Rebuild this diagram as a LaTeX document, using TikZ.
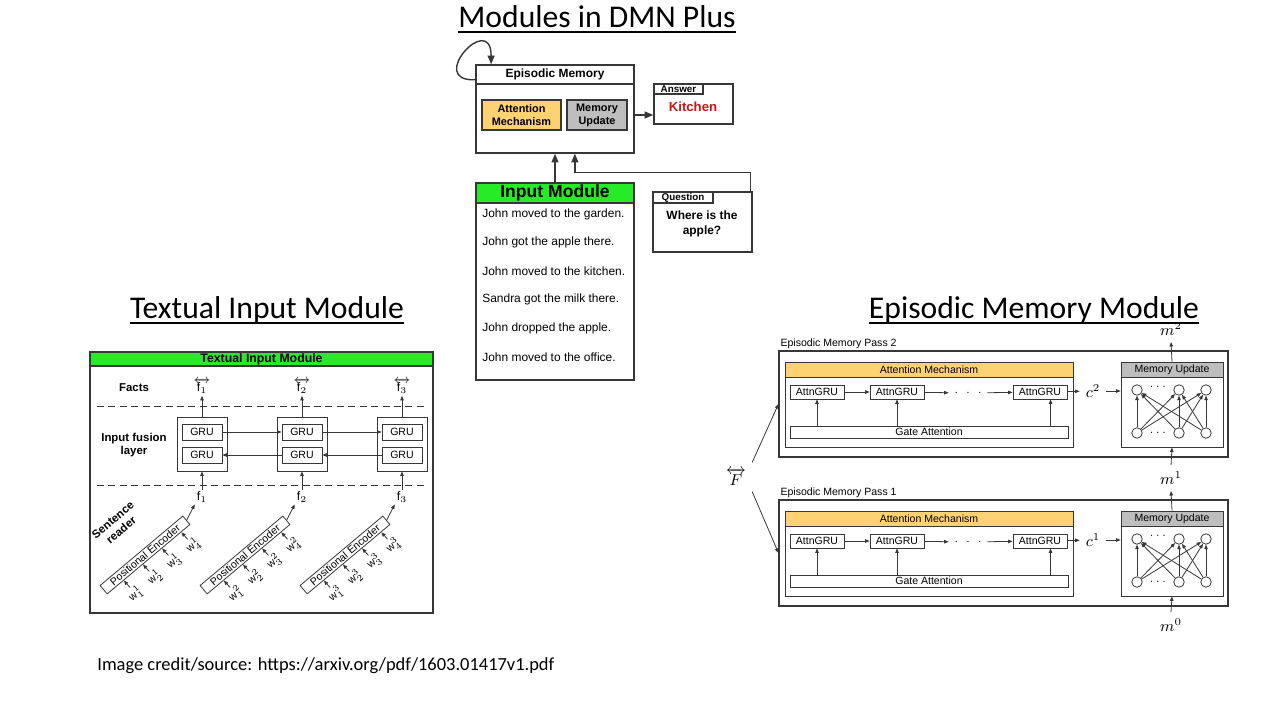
\documentclass[tikz,border=0pt]{standalone}
\usepackage{amsmath}
\usepackage{fontspec}
\setmainfont{Liberation Sans}
\setsansfont{Liberation Sans}
\newfontfamily\calibri{Carlito}
\usetikzlibrary{arrows.meta, positioning, fit, calc}

\definecolor{modgreen}{RGB}{40,235,40}
\definecolor{attnorange}{RGB}{253,210,115}
\definecolor{updgrey}{RGB}{190,190,190}
\definecolor{kitred}{RGB}{204,20,20}
\definecolor{linegrey}{RGB}{55,55,55}

\begin{document}
\begin{tikzpicture}[x=0.02cm, y=-0.02cm,
    box/.style={draw=linegrey, line width=0.8pt, inner sep=0pt},
    sbox/.style={draw=linegrey, line width=0.45pt, inner sep=0pt, fill=white},
    bigarr/.style={-{Triangle[length=5pt,width=4pt]}, line width=0.8pt, draw=linegrey},
    arr/.style={-{Triangle[length=2.6pt,width=2pt]}, line width=0.45pt, draw=linegrey},
    heading/.style={font=\calibri\fontsize{18}{20}\selectfont, anchor=base, inner sep=0pt},
    uline/.style={line width=1.1pt},
    tiny/.style={font=\fontsize{6}{7}\selectfont, inner sep=0pt},
    tinyb/.style={font=\bfseries\fontsize{6.5}{7.4}\selectfont, inner sep=0pt},
    mainb/.style={font=\bfseries\fontsize{6.8}{8.4}\selectfont, inner sep=0pt},
    tabb/.style={font=\bfseries\fontsize{5.6}{5.6}\selectfont, inner sep=0pt}]

    \fill[white] (0,0) rectangle (1280,720);
    \useasboundingbox (0,0) rectangle (1280,720);

    % Modules in DMN Plus
    \node[heading] (dmnt) at (597,28) {Modules in DMN Plus};
    \draw[uline] ([yshift=-2.4pt]dmnt.base west) -- ([yshift=-2.4pt]dmnt.base east);

    \node[box, fit={(476,65) (634,153)}] (em) {};
    \node[box, fit={(476,65) (634,84)}] (emh) {};
    \node[mainb] (emhl) at (emh) {Episodic Memory};
    \node[box, fill=attnorange, fit={(482,100) (561,130)}] (am) {};
    \node[align=center, inner sep=0pt, font=\bfseries\fontsize{6.2}{7.4}\selectfont] (aml) at (am) {Attention\\Mechanism};
    \node[box, fill=updgrey, fit={(567,100) (627,130)}] (mu) {};
    \node[align=center, inner sep=0pt, font=\bfseries\fontsize{6.2}{7.4}\selectfont] (mul) at (mu) {Memory\\Update};
    \draw[bigarr] ([yshift=-3pt]emh.west) .. controls +(-50,2) and +(0,-54) .. ([xshift=9pt]emh.north west);

    \node[box, fit={(654,84) (733,124)}] (ans) {};
    \node[box, line width=0.6pt, fit={(654,84) (703,94)}] (anst) {};
    \node[tabb] (anstl) at (anst) {Answer};
    \node[text=kitred, font=\bfseries\fontsize{7.5}{9}\selectfont] (kit) at (693,107) {Kitchen};
    \draw[bigarr] (em.east |- am.east) -- (ans.west |- am.east);

    \node[box, fit={(476,183) (634,380)}] (im) {};
    \node[box, fill=modgreen, fit={(476,183) (634,203)}] (imh) {};
    \node[inner sep=0pt, font=\bfseries\fontsize{10}{12}\selectfont] (imhl) at (imh) {Input Module};
    \foreach \s [count=\k] in {John moved to the garden., John got the apple there., John moved to the kitchen.,
        Sandra got the milk there., John dropped the apple., John moved to the office.}
        \node[anchor=west, inner sep=0pt, font=\fontsize{6.8}{8}\selectfont] (s\k) at (482,{214+28.6*(\k-1)}) {\s};
    \draw[bigarr] (imh.north) -- (imh.north |- em.south);

    \node[box, fit={(653,192) (752,252)}] (q) {};
    \node[box, line width=0.6pt, fit={(653,192) (713,203)}] (qt) {};
    \node[tabb] (qtl) at (qt) {Question};
    \node[mainb, align=center] (qtxt) at (702,224) {Where is the\\apple?};
    \draw[bigarr] ([xshift=-1.2pt]q.north east) -- ++(0,-19) -| ([xshift=11.3pt]em.south);

    % Textual Input Module
    \node[heading] (timt) at (267,318) {Textual Input Module};
    \draw[uline] ([yshift=-2.6pt]timt.base west) -- ([yshift=-2.6pt]timt.base east);

    \node[sbox, line width=0.6pt, fit={(90,352) (433,613)}] (tim) {};
    \node[sbox, line width=0.6pt, fill=modgreen, fit={(90,352) (433,366)}] (timh) {};
    \node[font=\bfseries\fontsize{7}{8}\selectfont, inner sep=0pt] (timhl) at (timh) {Textual Input Module};
    \node[tinyb] (facts) at (134,388) {Facts};
    \node[tinyb, align=center] (fusion) at (134,445) {Input fusion\\layer};
    \node[tinyb, align=center, rotate=40] (reader) at (117,525) {Sentence\\reader};
    \draw[linegrey, line width=0.5pt, dash pattern=on 4pt off 2.5pt] (97,406) -- (427,406);
    \draw[linegrey, line width=0.5pt, dash pattern=on 4pt off 2.5pt] (97,485) -- (427,485);

    \foreach \i in {1,2,3}{
        \pgfmathsetmacro\gx{202+100*(\i-1)}
        \node[sbox, minimum width=10mm, minimum height=10.8mm] (g\i) at (\gx,444) {};
        \node[sbox, minimum width=8mm, minimum height=3.2mm, tiny] (gf\i) at (\gx,432) {GRU};
        \node[sbox, minimum width=8mm, minimum height=3.2mm, tiny] (gb\i) at (\gx,455) {GRU};
        \node[inner sep=1pt, font=\fontsize{7}{8}\selectfont] (ft\i) at (\gx,386) {$\overleftrightarrow{\text{f}_{\i}}$};
        \node[inner sep=1pt, font=\fontsize{7}{8}\selectfont] (fb\i) at (\gx,497) {$\text{f}_{\i}$};
        \draw[arr] (g\i.north) -- (ft\i.south);
        \draw[arr] (fb\i.north) -- (g\i.south);
        \node[sbox, rotate=40, minimum width=21.6mm, minimum height=2.2mm, tiny] (pe\i) at (\gx-57,555) {Positional Encoder};
        \draw[arr] (pe\i.east) -- (fb\i.south west);
        \foreach \k/\pos in {1/0.2,2/0.43,3/0.66,4/0.89}{
            \coordinate (pw\i\k) at ($(pe\i.south west)!\pos!(pe\i.south east)$);
            \coordinate (wt\i\k) at ([shift={(3.6pt,-4pt)}]pw\i\k);
            \node[rotate=40, tiny] (w\i\k) at ([shift={(6.8pt,-7.6pt)}]pw\i\k) {$\text{w}^{\i}_{\k}$};
            \draw[arr] (wt\i\k) -- (pw\i\k);
        }
    }
    \foreach \i/\j in {1/2,2/3}{
        \draw[arr] (gf\i.east) -- (gf\j.west);
        \draw[arr] (gb\j.west) -- (gb\i.east);
    }

    % Episodic Memory Module
    \node[heading] (emmt) at (1034,318) {Episodic Memory Module};
    \draw[uline] ([yshift=-2.6pt]emmt.base west) -- ([yshift=-2.6pt]emmt.base east);

    \node[font=\fontsize{9}{10}\selectfont] (F) at (736,477) {$\overleftrightarrow{F}$};
    \foreach \p/\top in {2/351,1/500}{
        \node[sbox, line width=0.6pt, fit={(779,\top) (1228,{\top+106})}] (ps\p) {};
        \node[anchor=south west, inner sep=1pt, font=\fontsize{6}{7}\selectfont] (pl\p) at (ps\p.north west) {Episodic Memory Pass \p};
        \node[sbox, fit={(785,{\top+11}) (1073,{\top+96})}] (at\p) {};
        \node[sbox, fill=attnorange, fit={(785,{\top+11}) (1073,{\top+26})}] (ath\p) {};
        \node[tiny] (athl\p) at (ath\p) {Attention Mechanism};
        \foreach \k/\ax in {1/817,2/897,3/1040}
            \node[sbox, minimum width=10.8mm, minimum height=2.8mm, tiny] (a\p\k) at (\ax,{\top+41}) {AttnGRU};
        \node[font=\fontsize{6}{7}\selectfont] (dt\p) at (968,{\top+42}) {.\hspace{5pt}.\hspace{5pt}.};
        \node[sbox, fit={(790,{\top+75}) (1068,{\top+87})}] (ga\p) {};
        \node[tiny] (gal\p) at (ga\p) {Gate Attention};
        \draw[arr] (a\p1) -- (a\p2);
        \draw[arr] (a\p2) -- (dt\p);
        \draw[arr] (dt\p) -- (a\p3);
        \foreach \k/\dx in {1/0pt,2/0pt,3/6pt}
            \draw[arr] ([xshift=\dx]a\p\k.south |- ga\p.north) -- ([xshift=\dx]a\p\k.south);
        \node[font=\fontsize{9}{10}\selectfont] (c\p) at (1093,{\top+40}) {$c^{\p}$};
        \node[sbox, fit={(1121,{\top+11}) (1223,{\top+96})}] (mu\p) {};
        \node[sbox, fill=updgrey, fit={(1121,{\top+11}) (1223,{\top+26})}] (muh\p) {};
        \node[tiny] (muhl\p) at (muh\p) {Memory Update};
        \draw[arr] (a\p3) -- (c\p);
        \draw[arr] (c\p.east) -- (c\p.east -| mu\p.west);
        \foreach \k/\cx in {1/1137,2/1179,3/1206}{
            \node[circle, draw=linegrey, line width=0.45pt, minimum size=2.1mm, inner sep=0pt] (u\p\k) at (\cx,{\top+39}) {};
            \node[circle, draw=linegrey, line width=0.45pt, minimum size=2.1mm, inner sep=0pt] (l\p\k) at (\cx,{\top+82}) {};
        }
        \node[font=\fontsize{6}{7}\selectfont] (ud\p) at (1159,{\top+36}) {$\cdots$};
        \node[font=\fontsize{6}{7}\selectfont] (ld\p) at (1159,{\top+82}) {$\cdots$};
        \foreach \b in {1,2,3}
            \foreach \u in {1,2,3}
                \draw[arr] (l\p\b) -- (u\p\u);
    }
    \node[font=\fontsize{9}{10}\selectfont] (m2) at (1171,329) {$m^2$};
    \node[font=\fontsize{9}{10}\selectfont] (m1) at (1171,478) {$m^1$};
    \node[font=\fontsize{9}{10}\selectfont] (m0) at (1171,625) {$m^0$};
    \draw[arr] (mu2.north) -- (m2.south);
    \draw[arr] (mu1.north) -- (m1.south);
    \draw[arr] (m1.north) -- (mu2.south);
    \draw[arr] (m0.north) -- (mu1.south);
    \draw[arr] (F.north east) -- (ps2.west);
    \draw[arr] (F.south east) -- (ps1.west);

    \node[anchor=base west, inner sep=0pt, font=\calibri\fontsize{10.5}{12}\selectfont] (credit) at (97,670)
        {Image credit/source: https://arxiv.org/pdf/1603.01417v1.pdf};
\end{tikzpicture}
\end{document}
